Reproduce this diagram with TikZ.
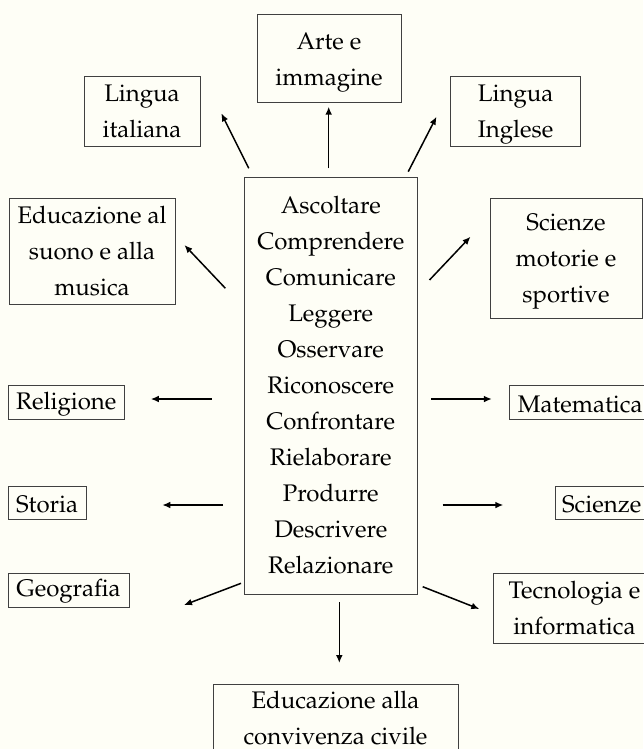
\documentclass[tikz,border=0pt]{standalone}
\usepackage[T1]{fontenc}
\usepackage{mathpazo}
\usepackage{tikz}
\usetikzlibrary{arrows.meta}
\definecolor{mback}{rgb}{0.996, 0.996, 0.965}
\definecolor{mline}{rgb}{0.25, 0.25, 0.25}
\tikzset{subj/.style = {draw = mline, line width = 0.5pt, align = center, inner sep = 1pt,
    font = \fontsize{12}{18}\selectfont}}
\tikzset{single/.style = {subj, text height = 10pt}}
\tikzset{low/.style = {text depth = 0pt}}
\tikzset{link/.style = {-{Latex[length = 4pt, width = 3.4pt]}, line width = 0.75pt}}

\begin{document}
\begin{tikzpicture}[x = 0.5pt, y = -0.5pt]
      \fill [mback] (0, 0) rectangle (643, 749);
      \useasboundingbox (0, 0) rectangle (643, 749);

      % central box with the verbs
      \node [subj, minimum width = 86.75pt, minimum height = 208.5pt] (hub) at (330.75, 385.5)
        {Ascoltare\\ Comprendere\\ Comunicare\\ Leggere\\ Osservare\\ Riconoscere\\
         Confrontare\\ Rielaborare\\ Produrre\\ Descrivere\\ Relazionare};

      % the subjects
      \node [subj, low, minimum width = 72pt, minimum height = 44pt] (arte) at (329, 59) {Arte e\\ immagine};
      \node [subj, minimum width = 58pt, minimum height = 34.5pt] (ital) at (142, 111.5) {Lingua\\ italiana};
      \node [subj, low, minimum width = 65pt, minimum height = 34.5pt] (ingl) at (515.6, 111.5) {Lingua\\ Inglese};
      \node [subj, minimum width = 83pt, minimum height = 53pt] (musi) at (92, 251.3) {Educazione al\\ suono e alla\\ musica};
      \node [subj, low, minimum width = 76pt, minimum height = 60pt] (moto) at (566, 258) {Scienze\\ motorie e\\ sportive};
      \node [single, minimum width = 58pt, minimum height = 16.8pt] (reli) at (66.2, 402.5) {Religione};
      \node [single, minimum width = 71.2pt, minimum height = 16.8pt] (mate) at (580.2, 402.5) {Matematica};
      \node [single, minimum width = 38.9pt, minimum height = 16.7pt] (stor) at (47.1, 502.7) {Storia};
      \node [single, minimum width = 46.7pt, minimum height = 16.7pt] (scie) at (601.7, 502.7) {Scienze};
      \node [single, minimum width = 60.4pt, minimum height = 17pt] (geog) at (68.6, 590.3) {Geografia};
      \node [subj, minimum width = 81.5pt, minimum height = 35pt] (tecn) at (574.5, 608.3) {Tecnologia e\\ informatica};
      \node [subj, minimum width = 122.5pt, minimum height = 34.5pt] (conv) at (335.5, 718.5) {Educazione alla\\ convivenza civile};

      % arrow ends
      \coordinate (ital-a) at (248.8, 168.3);  \coordinate (ital-b) at (221.3, 113.3);
      \coordinate (arte-a) at (328.7, 168.3);  \coordinate (arte-b) at (328.7, 106.7);
      \coordinate (ingl-a) at (408.2, 171.7);  \coordinate (ingl-b) at (436.5, 116.7);
      \coordinate (musi-a) at (225.4, 288.3);  \coordinate (musi-b) at (184.4, 245);
      \coordinate (moto-a) at (429.5, 280);    \coordinate (moto-b) at (470.5, 236.7);
      \coordinate (reli-a) at (211.5, 399);    \coordinate (reli-b) at (150.8, 399);
      \coordinate (mate-a) at (431.1, 399);    \coordinate (mate-b) at (491.8, 399);
      \coordinate (stor-a) at (223, 505);      \coordinate (stor-b) at (162.3, 505);
      \coordinate (scie-a) at (442.6, 505);    \coordinate (scie-b) at (503.3, 505);
      \coordinate (geog-a) at (241, 583.3);    \coordinate (geog-b) at (184, 605);
      \coordinate (tecn-a) at (422.7, 586.7);  \coordinate (tecn-b) at (479.3, 609);
      \coordinate (conv-a) at (339.3, 602.3);  \coordinate (conv-b) at (339.3, 663);

      \foreach \s in {ital, arte, ingl, musi, moto, reli, mate, stor, scie, geog, tecn, conv}
        \draw [link] (\s-a) -- (\s-b);
    \end{tikzpicture}
\end{document}
